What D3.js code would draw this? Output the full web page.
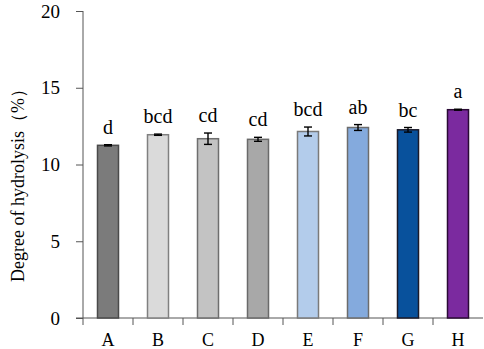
<!DOCTYPE html>
<html>
<head>
<meta charset="utf-8">
<script src="https://cdn.jsdelivr.net/npm/d3@7"></script>
<style>
  body { margin: 0; background: #fff; }
  text { font-family: "Liberation Serif", "Times New Roman", serif; fill: #000; }
</style>
</head>
<body>
<div id="chart"></div>
<script>
// Degree of hydrolysis per sample
const groups = ['A', 'B', 'C', 'D', 'E', 'F', 'G', 'H'];
const values = [11.25, 11.94, 11.68, 11.64, 12.15, 12.41, 12.26, 13.57];
const errors = [0.04, 0.04, 0.37, 0.13, 0.29, 0.19, 0.15, 0.03];
const letters = ['d', 'bcd', 'cd', 'cd', 'bcd', 'ab', 'bc', 'a'];
const fills = ['#7b7b7b', '#dadada', '#c3c3c3', '#a8a8a8', '#b3cceb', '#84aadd', '#08519c', '#7b2a9f'];
const strokes = ['#4a4a4a', '#808080', '#6e6e6e', '#6a6a6a', '#7a7a7a', '#6c6c6c', '#1a1a2a', '#2a0a35'];
const yTicks = [0, 5, 10, 15, 20];

const W = 484, H = 349;
const margin = {top: 11, right: 1, bottom: 31, left: 83};

const svg = d3.select('#chart').append('svg')
    .attr('width', W)
    .attr('height', H);

const x = d3.scaleBand()
    .domain(groups)
    .range([margin.left, W - margin.right])
    .paddingInner(0.58)
    .paddingOuter(0.29);

const y = d3.scaleLinear()
    .domain([0, 20])
    .range([H - margin.bottom, margin.top]);

// y axis
const yAxis = svg.append('g')
    .attr('transform', `translate(${margin.left},0)`)
    .call(d3.axisLeft(y).tickValues(yTicks).tickSize(7).tickPadding(16));
yAxis.selectAll('text').style('font-size', '19px').attr('font-family', null);
yAxis.selectAll('line, path').attr('stroke', '#555');
yAxis.select('.domain').attr('d', `M0,${y(20)}V${y(0)}`);

// x axis, ticks on band boundaries
const xg = svg.append('g')
    .attr('transform', `translate(0,${y(0)})`);
xg.append('line')
    .attr('x1', margin.left - 7).attr('x2', W - margin.right)
    .attr('stroke', '#555');
const step = x.step();
xg.selectAll('.xt')
    .data(groups)
    .join('line')
    .attr('x1', d => x(d) + x.bandwidth() / 2 - step / 2)
    .attr('x2', d => x(d) + x.bandwidth() / 2 - step / 2)
    .attr('y1', 0).attr('y2', 7)
    .attr('stroke', '#555');
xg.selectAll('.xl')
    .data(groups)
    .join('text')
    .attr('x', d => x(d) + x.bandwidth() / 2)
    .attr('y', 28)
    .attr('text-anchor', 'middle')
    .style('font-size', '18px')
    .text(d => d);

// bars
svg.selectAll('.bar')
    .data(groups)
    .join('rect')
    .attr('class', 'bar')
    .attr('x', d => x(d))
    .attr('width', x.bandwidth())
    .attr('y', (d, i) => y(values[i]))
    .attr('height', (d, i) => y(0) - y(values[i]))
    .attr('fill', (d, i) => fills[i])
    .attr('stroke', (d, i) => strokes[i])
    .attr('stroke-width', 1.5);

// error bars
const eb = svg.append('g').attr('stroke', '#000').attr('stroke-width', 1.4);
groups.forEach((g, i) => {
    const cx = x(g) + x.bandwidth() / 2;
    const lo = y(values[i] - errors[i]);
    const hi = y(values[i] + errors[i]);
    eb.append('line').attr('x1', cx).attr('x2', cx).attr('y1', lo).attr('y2', hi);
    eb.append('line').attr('x1', cx - 4).attr('x2', cx + 4).attr('y1', lo).attr('y2', lo);
    eb.append('line').attr('x1', cx - 4).attr('x2', cx + 4).attr('y1', hi).attr('y2', hi);
});

// significance letters
svg.selectAll('.sig')
    .data(groups)
    .join('text')
    .attr('class', 'sig')
    .attr('x', d => x(d) + x.bandwidth() / 2)
    .attr('y', (d, i) => y(values[i] + errors[i]) - 11)
    .attr('text-anchor', 'middle')
    .style('font-size', '20px')
    .text((d, i) => letters[i]);

// y title
svg.append('text')
    .attr('transform', `translate(24,181) rotate(-90)`)
    .attr('text-anchor', 'middle')
    .style('font-size', '18px')
    .text('Degree of hydrolysis（%）');
</script>
</body>
</html>
